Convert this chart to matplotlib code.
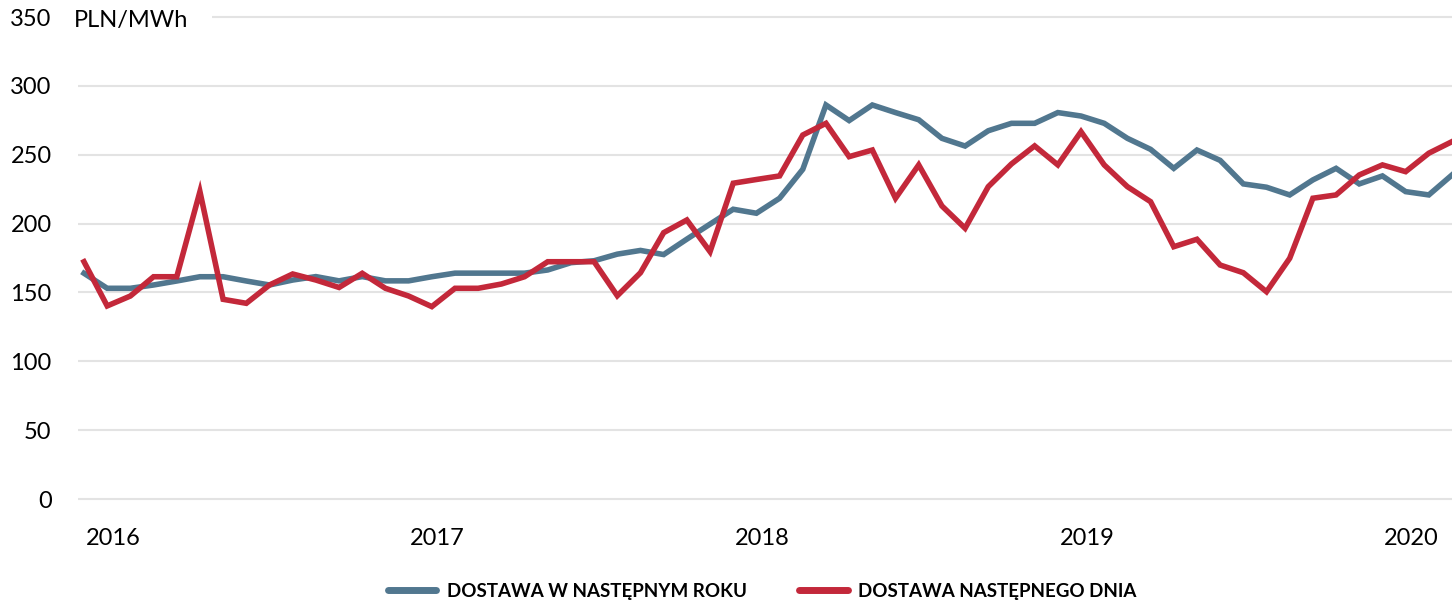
import numpy as np
import matplotlib
matplotlib.use("Agg")
import matplotlib.pyplot as plt
from matplotlib.lines import Line2D
from matplotlib.patches import Rectangle

plt.rcParams.update({
    "font.family": ["Lato", "DejaVu Sans"],
    "font.size": 17,
})

BLUE = "#51778f"
RED = "#c3283a"
GRID = "#e3e3e3"

# ------------------------------------------------------------------
# Data (PLN/MWh)
# ------------------------------------------------------------------
year_ahead = [
    163.9, 153.0, 153.0, 155.4, 158.3, 161.4, 161.4, 158.3, 155.4, 159.0,
    161.5, 158.4, 161.5, 158.4, 158.4, 161.4, 164.0, 164.0, 164.0, 164.0,
    166.3, 171.6, 173.0, 177.8, 180.5, 177.5, 188.7, 199.6, 210.4, 207.5,
    218.4, 239.4, 286.1, 274.8, 286.1, 280.6, 275.4, 261.9, 256.3, 267.4,
    272.8, 272.8, 280.6, 278.1, 272.8, 261.9, 253.9, 240.1, 253.4, 245.9,
    228.8, 226.4, 220.8, 231.7, 240.1, 228.8, 234.6, 223.2, 220.8, 235.3,
]
day_ahead = [
    172.3, 140.2, 147.4, 161.4, 161.4, 223.2, 145.0, 142.1, 155.4, 163.4,
    159.0, 153.6, 163.9, 153.0, 147.4, 139.7, 153.0, 153.0, 156.1, 161.4,
    172.3, 172.3, 172.3, 147.6, 164.3, 193.4, 202.6, 179.6, 229.3, 232.0,
    234.6, 264.3, 272.8, 248.6, 253.4, 218.4, 242.6, 212.8, 196.6, 226.8,
    243.3, 256.4, 242.6, 266.7, 242.6, 226.8, 215.9, 183.2, 188.6, 169.9,
    164.3, 150.5, 174.8, 218.4, 220.8, 235.3, 242.6, 237.7, 251.1, 259.5,
]
year_labels = ["2016", "2017", "2018", "2019", "2020"]
year_label_pos = [1.25, 15.25, 29.25, 43.25, 57.25]
y_ticks = [0, 50, 100, 150, 200, 250, 300, 350]
series_names = ["DOSTAWA W NASTĘPNYM ROKU", "DOSTAWA NASTĘPNEGO DNIA"]

x = np.arange(len(day_ahead))

fig = plt.figure(figsize=(14.52, 6.0), dpi=100)
# y: 0 -> px 499, 350 -> px 17 ; x: idx 0 -> px 84, idx 59 -> px 1452
px_per_unit = (499 - 17) / 350
y_lo, y_hi = -3, 353
bottom_px = 499 + 3 * px_per_unit
top_px = 17 - 3 * px_per_unit
ax = fig.add_axes([78 / 1452, 1 - bottom_px / 600, 1 - 78 / 1452,
                   (bottom_px - top_px) / 600])

ax.plot(x, year_ahead, color=BLUE, lw=4.0, solid_joinstyle="miter", zorder=3)
ax.plot(x, day_ahead, color=RED, lw=4.0, solid_joinstyle="miter", zorder=4)

step_px = (1452 - 84) / (len(x) - 1)
ax.set_xlim(-(84 - 78) / step_px, len(x) - 1)
ax.set_ylim(y_lo, y_hi)

ax.set_yticks(y_ticks)
ax.set_xticks(year_label_pos)
ax.set_xticklabels(year_labels)
ax.tick_params(axis="both", length=0, labelsize=17, colors="black")
ax.tick_params(axis="y", pad=19)
ax.tick_params(axis="x", pad=18)

ax.yaxis.grid(True, color=GRID, lw=1.5)
ax.set_axisbelow(True)
for s in ax.spines.values():
    s.set_visible(False)

# unit label sits on the top gridline
ax.add_patch(Rectangle((0, 0.96), (212 - 78) / 1374, 0.06,
                       transform=ax.transAxes, facecolor="white",
                       edgecolor="none", zorder=1.5, clip_on=False))
fig.text(74 / 1452, 1 - 21 / 600, "PLN/MWh", fontsize=17,
         ha="left", va="center")

handles = [
    Line2D([], [], color=BLUE, lw=5.0, solid_capstyle="round"),
    Line2D([], [], color=RED, lw=5.0, solid_capstyle="round"),
]
leg = fig.legend(handles, series_names, loc="center",
                 bbox_to_anchor=(762 / 1452, 9 / 600), ncol=2, frameon=False,
                 prop={"family": ["Lato", "DejaVu Sans"], "weight": "bold",
                       "size": 13.5},
                 handlelength=2.6, handletextpad=0.55, columnspacing=2.8)

fig.savefig("out.png", dpi=100)
